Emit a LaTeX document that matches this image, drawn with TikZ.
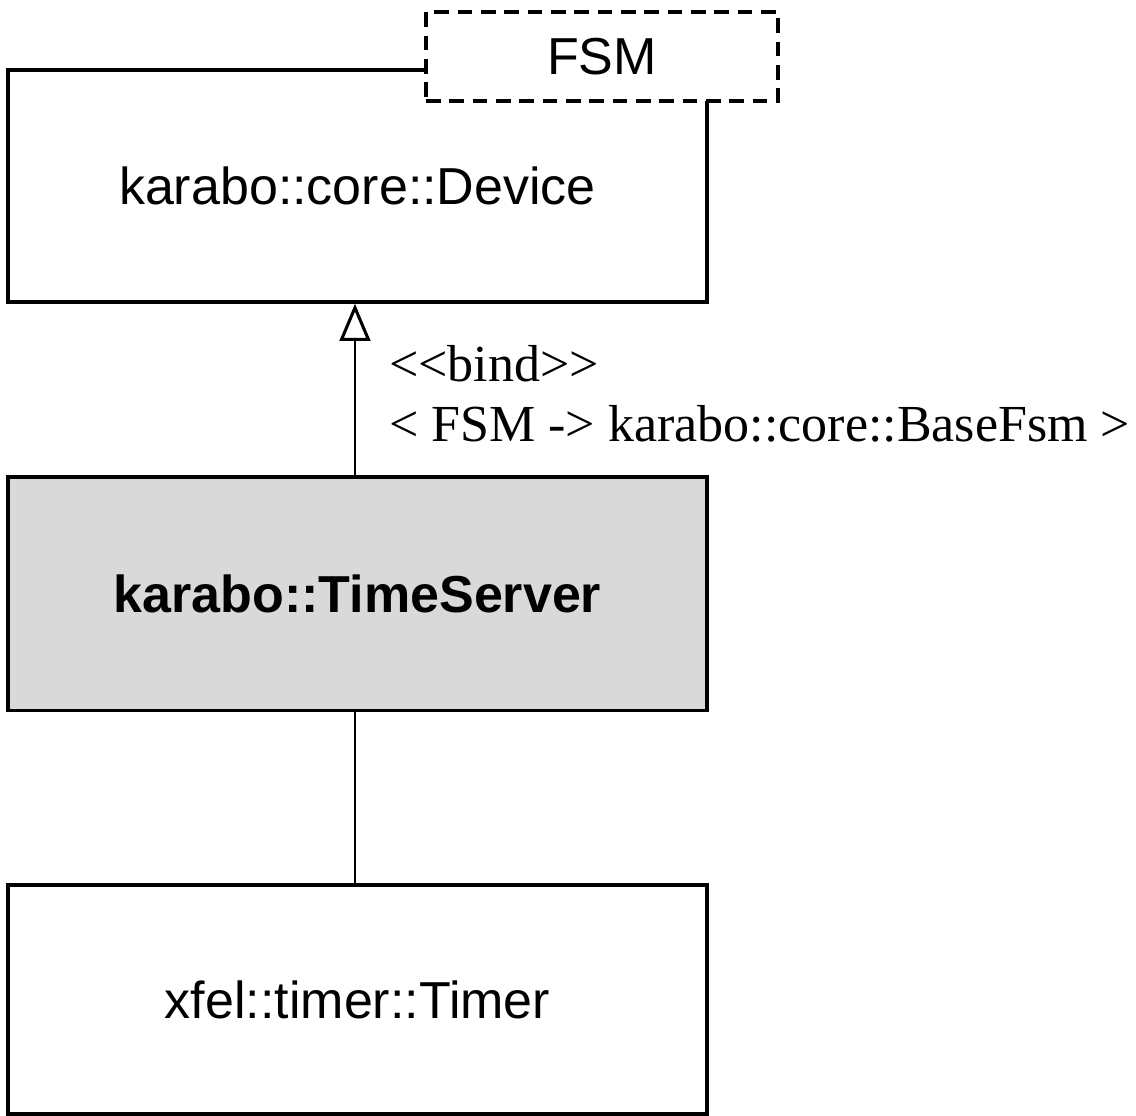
\documentclass[tikz,border=0pt]{standalone}
\usepackage{fontspec}
\setmainfont{Liberation Sans}
\newfontfamily\bindfont{Liberation Serif}
\usetikzlibrary{arrows.meta}
\definecolor{classgray}{HTML}{D9D9D9}
\begin{document}
\begin{tikzpicture}[x=0.75pt, y=-0.75pt,
  classbox/.style={draw=black, line width=2.5pt, rectangle, inner sep=0pt,
    minimum width=524.25pt, font=\fontsize{39}{45}\selectfont},
  tmplbox/.style={draw=black, fill=white, line width=2.5pt, dash pattern=on 11pt off 6.5pt,
    rectangle, inner sep=0pt, minimum width=264pt, minimum height=66.75pt,
    font=\fontsize{39}{45}\selectfont},
  conn/.style={draw=black, line width=1.6pt},
  realize/.style={conn, -{Triangle[open, length=28pt, width=23pt, line width=2.3pt]}},
  bindlabel/.style={inner sep=0pt, align=left, anchor=west,
    font=\bindfont\fontsize{39}{45}\selectfont}]
  \useasboundingbox (0,0) rectangle (1136,1116);

  % classes
  \node[classbox, minimum height=174pt] (dev) at (357.5,186) {karabo::core::Device};
  \node[classbox, minimum height=175pt, fill=classgray] (ts) at (357.5,593.5) {\bfseries karabo::TimeServer};
  \node[classbox, minimum height=171.75pt] (tim) at (357.5,999.5) {xfel::timer::Timer};

  % template parameter of the device class
  \node[tmplbox] (fsm) at (602,56.5) {FSM};

  % binding and association
  \draw[realize] ([xshift=-1.9pt]ts.north) -- ([xshift=-1.9pt]dev.south);
  \draw[conn] ([xshift=-1.9pt]tim.north) -- ([xshift=-1.9pt]ts.south);

  \node[bindlabel] (bind) at (389,394)
    {<{}<bind>{}>\\< FSM -> karabo::core::BaseFsm >};
\end{tikzpicture}
\end{document}
